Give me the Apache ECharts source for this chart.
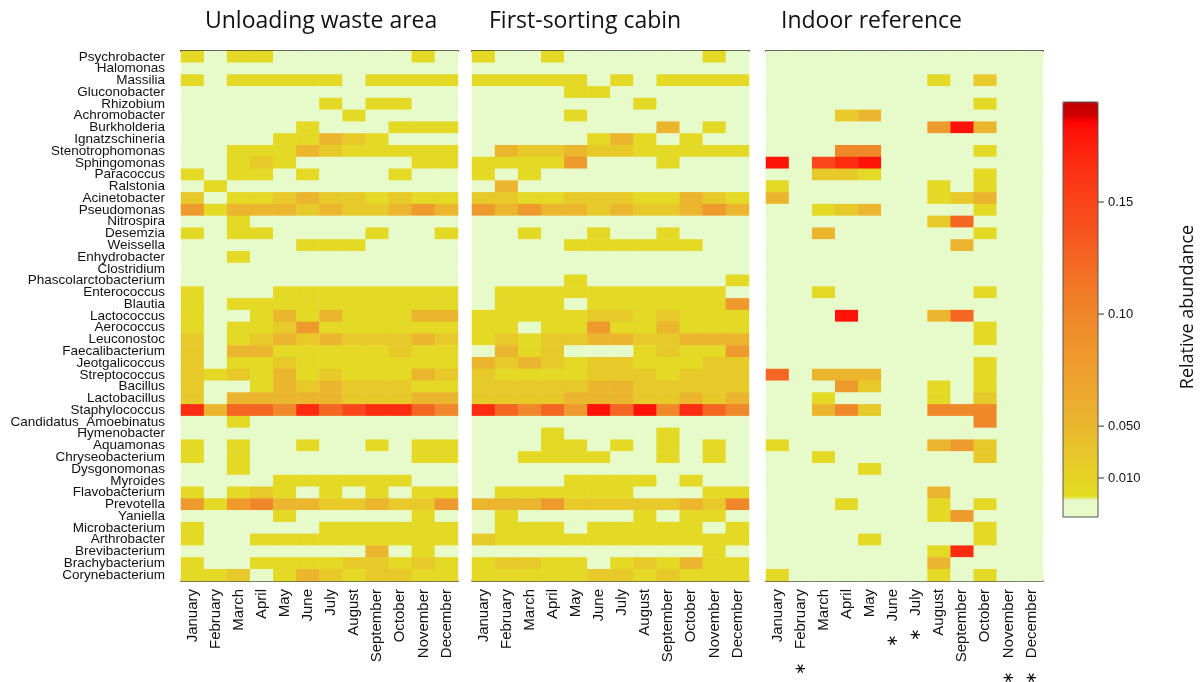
<!DOCTYPE html>
<html>
<head>
<meta charset="utf-8">
<script src="https://cdn.jsdelivr.net/npm/echarts@6/dist/echarts.min.js"></script>
<style>
html, body { margin: 0; padding: 0; background: #fff; }
#chart { width: 1201px; height: 682px; }
</style>
</head>
<body>
<div id="chart"></div>
<script>
const months = ['January', 'February', 'March', 'April', 'May', 'June', 'July',
    'August', 'September', 'October', 'November', 'December'];

const genera = ['Psychrobacter', 'Halomonas', 'Massilia', 'Gluconobacter', 'Rhizobium',
    'Achromobacter', 'Burkholderia', 'Ignatzschineria', 'Stenotrophomonas', 'Sphingomonas',
    'Paracoccus', 'Ralstonia', 'Acinetobacter', 'Pseudomonas', 'Nitrospira', 'Desemzia',
    'Weissella', 'Enhydrobacter', 'Clostridium', 'Phascolarctobacterium', 'Enterococcus',
    'Blautia', 'Lactococcus', 'Aerococcus', 'Leuconostoc', 'Faecalibacterium',
    'Jeotgalicoccus', 'Streptococcus', 'Bacillus', 'Lactobacillus', 'Staphylococcus',
    'Candidatus_Amoebinatus', 'Hymenobacter', 'Aquamonas', 'Chryseobacterium',
    'Dysgonomonas', 'Myroides', 'Flavobacterium', 'Prevotella', 'Yaniella',
    'Microbacterium', 'Arthrobacter', 'Brevibacterium', 'Brachybacterium', 'Corynebacterium'];

const panelTitles = ['Unloading waste area', 'First-sorting cabin', 'Indoor reference'];

// months marked with * under the indoor panel
const starredIndoor = ['February', 'June', 'July', 'November', 'December'];

// relative abundance of each colour class (0 = absent)
const levelValues = [0, 0.007, 0.025, 0.052, 0.08, 0.098, 0.124, 0.148, 0.168, 0.181];

// colour bar ticks
const barTicks = [0.010, 0.050, 0.10, 0.15];
const barTickLabels = ['0.010', '0.050', '0.10', '0.15'];

// colour class per genus (rows) and month (columns)
const unloading = [
    [1,0,1,1,0,0,0,0,0,0,1,0],
    [0,0,0,0,0,0,0,0,0,0,0,0],
    [1,0,1,1,1,1,1,0,1,1,1,1],
    [0,0,0,0,0,0,0,0,0,0,0,0],
    [0,0,0,0,0,0,1,0,1,1,0,0],
    [0,0,0,0,0,0,0,1,0,0,0,0],
    [0,0,0,0,0,1,0,0,0,1,1,1],
    [0,0,0,0,1,1,3,2,1,0,0,0],
    [0,0,1,1,1,3,2,1,1,1,1,1],
    [0,0,1,2,1,0,0,0,0,0,1,1],
    [1,0,1,1,0,1,0,0,0,1,0,0],
    [0,1,0,0,0,0,0,0,0,0,0,0],
    [2,0,1,1,2,3,2,2,1,2,1,1],
    [4,1,3,3,3,2,3,2,2,3,4,3],
    [0,0,1,0,0,0,0,0,0,0,0,0],
    [1,0,1,1,0,0,0,0,1,0,0,1],
    [0,0,0,0,0,1,1,1,0,0,0,0],
    [0,0,1,0,0,0,0,0,0,0,0,0],
    [0,0,0,0,0,0,0,0,0,0,0,0],
    [0,0,0,0,0,0,0,0,0,0,0,0],
    [1,0,0,0,1,1,1,1,1,1,1,1],
    [1,0,1,1,1,1,1,1,1,1,1,1],
    [1,0,0,1,3,1,3,1,1,1,3,3],
    [1,0,1,1,2,4,1,1,1,1,1,1],
    [2,0,1,2,3,2,3,2,2,2,3,2],
    [2,0,3,3,1,1,1,1,1,2,1,1],
    [2,0,1,1,2,1,1,1,1,1,1,1],
    [2,1,2,1,3,1,2,1,1,1,3,2],
    [2,0,0,1,3,2,3,2,2,2,1,1],
    [2,0,3,3,3,3,3,2,2,2,3,3],
    [8,3,6,6,5,8,6,7,8,8,6,5],
    [0,0,1,0,0,0,0,0,0,0,0,0],
    [0,0,0,0,0,0,0,0,0,0,0,0],
    [1,0,1,0,0,1,0,0,1,0,1,1],
    [1,0,1,0,0,0,0,0,0,0,1,1],
    [0,0,1,0,0,0,0,0,0,0,0,0],
    [0,0,0,0,1,1,1,1,1,1,0,0],
    [1,0,1,2,1,0,1,0,1,0,1,1],
    [4,1,4,5,3,3,2,2,3,2,2,4],
    [0,0,0,0,1,0,0,0,0,0,1,0],
    [1,0,0,0,0,0,1,1,1,1,1,1],
    [1,0,0,1,1,1,1,1,1,1,1,1],
    [0,0,0,0,0,0,0,0,3,0,1,0],
    [1,0,0,1,1,1,1,2,2,1,2,1],
    [1,1,2,0,1,3,2,1,2,2,1,1]
];

const sorting = [
    [1,0,0,1,0,0,0,0,0,0,1,0],
    [0,0,0,0,0,0,0,0,0,0,0,0],
    [1,1,1,1,1,0,1,0,1,1,1,1],
    [0,0,0,0,1,1,0,0,0,0,0,0],
    [0,0,0,0,0,0,0,1,0,0,0,0],
    [0,0,0,0,1,0,0,0,0,0,0,0],
    [0,0,0,0,0,0,0,0,3,0,1,0],
    [0,0,0,0,0,1,3,1,0,1,0,0],
    [0,3,2,2,3,2,2,1,1,1,1,1],
    [1,1,1,1,4,0,0,0,1,0,0,0],
    [1,0,1,0,0,0,0,0,0,0,0,0],
    [0,3,0,0,0,0,0,0,0,0,0,0],
    [2,2,1,1,2,2,2,1,1,3,2,1],
    [4,3,4,3,3,2,3,2,2,3,4,3],
    [0,0,0,0,0,0,0,0,0,0,0,0],
    [0,0,1,0,0,1,0,0,1,0,0,0],
    [0,0,0,0,1,1,1,1,1,1,0,0],
    [0,0,0,0,0,0,0,0,0,0,0,0],
    [0,0,0,0,0,0,0,0,0,0,0,0],
    [0,0,0,0,1,0,0,0,0,0,0,1],
    [0,1,1,1,1,1,1,1,1,1,1,0],
    [0,1,1,1,0,1,1,1,1,1,1,4],
    [1,1,1,1,1,2,2,1,2,1,1,1],
    [1,1,0,1,1,4,1,1,3,1,1,1],
    [1,2,1,2,2,3,3,2,2,3,3,3],
    [0,3,1,2,0,0,0,1,2,1,1,4],
    [3,2,3,2,1,2,2,1,1,1,2,2],
    [2,1,1,1,1,2,2,2,1,2,2,2],
    [2,2,2,2,2,3,3,2,2,2,2,2],
    [2,2,2,2,3,3,3,2,2,3,2,3],
    [8,6,5,6,4,9,6,9,5,8,6,5],
    [0,0,0,0,0,0,0,0,0,0,0,0],
    [0,0,0,1,0,0,0,0,1,0,0,0],
    [0,0,0,1,1,0,1,0,1,0,1,0],
    [0,0,1,1,1,1,0,0,1,0,1,0],
    [0,0,0,0,0,0,0,0,0,0,0,0],
    [0,0,0,0,1,1,1,1,0,1,0,0],
    [0,1,1,1,1,1,1,0,0,0,1,1],
    [3,3,3,4,2,2,2,2,2,3,2,5],
    [0,1,0,0,0,0,0,1,0,1,1,0],
    [0,1,1,1,0,1,1,1,1,1,0,1],
    [2,1,1,1,1,1,1,1,1,1,1,1],
    [0,0,0,0,0,0,0,0,0,0,1,0],
    [1,2,2,1,1,0,1,2,1,3,1,1],
    [1,1,1,1,1,2,2,1,2,1,1,1]
];

const indoor = [
    [0,0,0,0,0,0,0,0,0,0,0,0],
    [0,0,0,0,0,0,0,0,0,0,0,0],
    [0,0,0,0,0,0,0,1,0,2,0,0],
    [0,0,0,0,0,0,0,0,0,0,0,0],
    [0,0,0,0,0,0,0,0,0,1,0,0],
    [0,0,0,2,3,0,0,0,0,0,0,0],
    [0,0,0,0,0,0,0,4,9,3,0,0],
    [0,0,0,0,0,0,0,0,0,0,0,0],
    [0,0,0,5,5,0,0,0,0,1,0,0],
    [9,0,7,8,9,0,0,0,0,0,0,0],
    [0,0,2,2,1,0,0,0,0,1,0,0],
    [1,0,0,0,0,0,0,1,0,1,0,0],
    [3,0,0,0,0,0,0,1,2,3,0,0],
    [0,0,1,2,3,0,0,0,0,1,0,0],
    [0,0,0,0,0,0,0,2,6,0,0,0],
    [0,0,3,0,0,0,0,0,0,1,0,0],
    [0,0,0,0,0,0,0,0,3,0,0,0],
    [0,0,0,0,0,0,0,0,0,0,0,0],
    [0,0,0,0,0,0,0,0,0,0,0,0],
    [0,0,0,0,0,0,0,0,0,0,0,0],
    [0,0,1,0,0,0,0,0,0,1,0,0],
    [0,0,0,0,0,0,0,0,0,0,0,0],
    [0,0,0,9,0,0,0,3,6,0,0,0],
    [0,0,0,0,0,0,0,0,0,1,0,0],
    [0,0,0,0,0,0,0,0,0,1,0,0],
    [0,0,0,0,0,0,0,0,0,0,0,0],
    [0,0,0,0,0,0,0,0,0,1,0,0],
    [6,0,3,3,3,0,0,0,0,1,0,0],
    [0,0,0,4,2,0,0,1,0,1,0,0],
    [0,0,1,0,0,0,0,1,0,2,0,0],
    [0,0,3,5,2,0,0,5,5,5,0,0],
    [0,0,0,0,0,0,0,0,0,5,0,0],
    [0,0,0,0,0,0,0,0,0,0,0,0],
    [1,0,0,0,0,0,0,3,4,2,0,0],
    [0,0,1,0,0,0,0,0,0,2,0,0],
    [0,0,0,0,1,0,0,0,0,0,0,0],
    [0,0,0,0,0,0,0,0,0,0,0,0],
    [0,0,0,0,0,0,0,3,0,0,0,0],
    [0,0,0,1,0,0,0,1,0,1,0,0],
    [0,0,0,0,0,0,0,1,4,0,0,0],
    [0,0,0,0,0,0,0,0,0,1,0,0],
    [0,0,0,0,1,0,0,0,0,1,0,0],
    [0,0,0,0,0,0,0,1,8,0,0,0],
    [0,0,0,0,0,0,0,3,0,0,0,0],
    [1,0,0,0,0,0,0,1,0,1,0,0]
];

// colour bar is stretched below 0.05, like the original key
function barPos(v) {
    if (v <= 0.01) return 0.094 * v / 0.01;
    if (v <= 0.05) return 0.094 + 0.125 * (v - 0.01) / 0.04;
    return 0.219 + 0.27 * (v - 0.05) / 0.05;
}

// colour ramp along the bar (position 0..1)
const rampStops = [
    [0, '#e7fbca'], [0.045, '#e7fbca'], [0.05, '#e3dc22'], [0.10, '#e5d226'],
    [0.16, '#e8c42a'], [0.23, '#ebb52e'], [0.30, '#eca82e'], [0.38, '#ee9a2c'],
    [0.48, '#f0882a'], [0.56, '#f27626'], [0.62, '#f46622'], [0.68, '#f6561e'],
    [0.75, '#f9461a'], [0.86, '#fd2a10'], [0.93, '#ff1208'], [0.955, '#ff0000'],
    [0.965, '#d00000'], [1, '#c00000']
];

function hexToRgb(h) {
    return [parseInt(h.slice(1, 3), 16), parseInt(h.slice(3, 5), 16), parseInt(h.slice(5, 7), 16)];
}

function rampColors(n) {
    const out = [];
    for (let i = 0; i <= n; i++) {
        const t = i / n;
        let k = 0;
        while (k < rampStops.length - 2 && rampStops[k + 1][0] < t) k++;
        const [t0, c0] = rampStops[k];
        const [t1, c1] = rampStops[k + 1];
        const f = t1 === t0 ? 0 : Math.min(1, Math.max(0, (t - t0) / (t1 - t0)));
        const a = hexToRgb(c0), b = hexToRgb(c1);
        out.push('rgb(' + a.map((x, j) => Math.round(x + (b[j] - x) * f)).join(',') + ')');
    }
    return out;
}

function toHeat(rows) {
    const data = [];
    rows.forEach((row, y) => {
        row.forEach((lvl, x) => {
            const v = levelValues[lvl];
            data.push([x, y, v, barPos(v)]);
        });
    });
    return data;
}

const panels = [unloading, sorting, indoor];
const gridLefts = [181, 472, 766];
const titleLefts = [200, 484, 776];
const gridWidth = 277;
const gridTop = 51;
const gridHeight = 530;

const barLeft = 1063, barTop = 102, barWidth = 35, barHeight = 415;

const chart = echarts.init(document.getElementById('chart'));

const grids = gridLefts.map(l => ({
    left: l, top: gridTop, width: gridWidth, height: gridHeight,
    containLabel: false, outerBoundsMode: 'none'
}));

const xAxes = [];
const yAxes = [];
panels.forEach((p, i) => {
    xAxes.push({
        type: 'category',
        gridIndex: i,
        data: months,
        position: 'bottom',
        axisLine: { lineStyle: { color: '#222', width: 1.5 } },
        axisTick: { alignWithLabel: true, length: 5, lineStyle: { color: '#222' } },
        axisLabel: {
            rotate: 90,
            fontSize: 15,
            fontFamily: 'Liberation Sans',
            color: '#111',
            margin: 8,
            interval: 0,
            formatter: name => (i === 2 && starredIndoor.includes(name)) ? '\u2217   ' + name : name
        },
        splitLine: { show: false }
    });
    xAxes.push({
        type: 'category',
        gridIndex: i,
        data: months,
        position: 'top',
        axisLine: { lineStyle: { color: '#333', width: 2 } },
        axisTick: { show: false },
        axisLabel: { show: false },
        splitLine: { show: false }
    });
    yAxes.push({
        type: 'category',
        gridIndex: i,
        data: genera,
        inverse: true,
        axisLine: { show: false },
        axisTick: { show: false },
        axisLabel: {
            show: i === 0,
            interval: 0,
            fontSize: 13.5,
            fontFamily: 'Liberation Sans',
            color: '#111',
            margin: 16
        },
        splitLine: { show: false }
    });
});

const series = panels.map((p, i) => ({
    type: 'heatmap',
    xAxisIndex: i * 2,
    yAxisIndex: i,
    data: toHeat(p),
    emphasis: { disabled: true },
    itemStyle: { borderWidth: 0 }
}));

const graphics = [
    {
        type: 'rect',
        shape: { x: barLeft, y: barTop, width: barWidth, height: barHeight },
        style: { fill: 'none', stroke: '#555', lineWidth: 1 },
        z: 100
    },
    {
        type: 'text',
        x: 1188,
        y: 307,
        rotation: Math.PI / 2,
        style: {
            text: 'Relative abundance',
            fontSize: 18,
            fontFamily: 'Open Sans',
            fill: '#111',
            align: 'center',
            verticalAlign: 'middle'
        }
    }
];
barTicks.forEach((v, k) => {
    const y = barTop + barHeight * (1 - barPos(v));
    graphics.push({
        type: 'line',
        shape: { x1: barLeft + barWidth, y1: y, x2: barLeft + barWidth + 6, y2: y },
        style: { stroke: '#333', lineWidth: 1 }
    });
    graphics.push({
        type: 'text',
        x: barLeft + barWidth + 10,
        y: y,
        style: {
            text: barTickLabels[k],
            fontSize: 13,
            fontFamily: 'Liberation Sans',
            fill: '#111',
            verticalAlign: 'middle'
        }
    });
});

const option = {
    backgroundColor: '#fff',
    animation: false,
    title: panelTitles.map((t, i) => ({
        text: t,
        left: titleLefts[i],
        top: 5,
        textStyle: { fontFamily: 'Open Sans', fontSize: 23, fontWeight: 'normal', color: '#111' }
    })),
    grid: grids,
    xAxis: xAxes,
    yAxis: yAxes,
    visualMap: {
        type: 'continuous',
        dimension: 3,
        min: 0,
        max: 1,
        seriesIndex: [0, 1, 2],
        calculable: false,
        hoverLink: false,
        left: barLeft,
        top: barTop,
        padding: 0,
        itemWidth: barWidth,
        itemHeight: barHeight,
        text: null,
        inRange: { color: rampColors(100) }
    },
    graphic: graphics,
    series: series
};

chart.setOption(option);
</script>
</body>
</html>
